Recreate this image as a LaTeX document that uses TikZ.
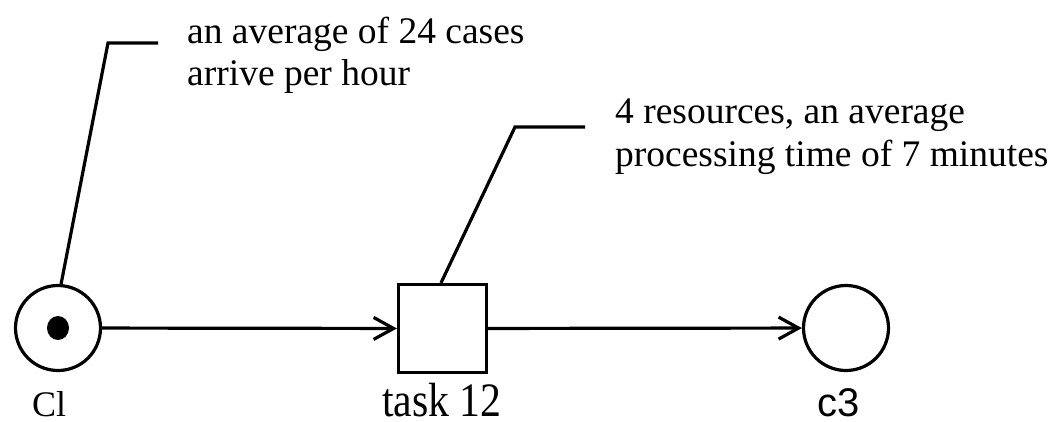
\documentclass[tikz,border=0pt]{standalone}
\usepackage{fontspec}
\setmainfont{Liberation Serif}
\newfontfamily\labsans{Liberation Sans}
\usetikzlibrary{arrows.meta, shapes.geometric}
\tikzset{
  place/.style={draw, circle, line width=3.2pt, minimum size=85pt, inner sep=0pt},
  trans/.style={draw, rectangle, line width=3.2pt, minimum size=88pt, inner sep=0pt},
  token/.style={fill, ellipse, minimum width=22pt, minimum height=24pt, inner sep=0pt},
  arc/.style={line width=3.2pt, -{Straight Barb[length=20pt, width=22pt, line width=3.2pt]}},
  leader/.style={line width=3.2pt, line join=miter},
  note/.style={anchor=base west, align=left, inner sep=0pt, font=\fontsize{37.5}{42.5}\selectfont},
  lab/.style={anchor=base west, inner sep=0pt, text depth=0pt}
}
\begin{document}
\begin{tikzpicture}[x=1pt, y=-1pt]
\useasboundingbox (0,0) rectangle (1052,421);
\node[place] (c1) at (58,328) {};
\node[token] (tok) at (c1.center) {};
\node[trans] (task) at (442.5,328.5) {};
\node[place] (c3) at (846,328) {};
\node[lab, font=\fontsize{36}{40}\selectfont] (lc1) at (32,416) {Cl};
\node[lab, font=\fontsize{48}{50}\selectfont] (ltask) at (382,416) {\scalebox{0.87}[1]{task 12}};
\node[lab, font=\labsans\fontsize{40}{44}\selectfont] (lc3) at (817,416) {c3};
\draw[arc] (c1) -- (task);
\draw[arc] (task) -- (c3);
\coordinate (k1) at (108,43);
\coordinate (e1) at (158,43);
\coordinate (k2) at (515,127);
\coordinate (e2) at (585,127);
\draw[leader] (c1.86) -- (k1) -- (e1);
\draw[leader] ([xshift=-1.5pt]task.north) -- (k2) -- (e2);
\node[note] (n1) at (187,85.5) {an average of 24 cases\\arrive per hour};
\node[note] (n2) at (615,166) {4 resources, an average\\processing time of 7 minutes};
\end{tikzpicture}
\end{document}
